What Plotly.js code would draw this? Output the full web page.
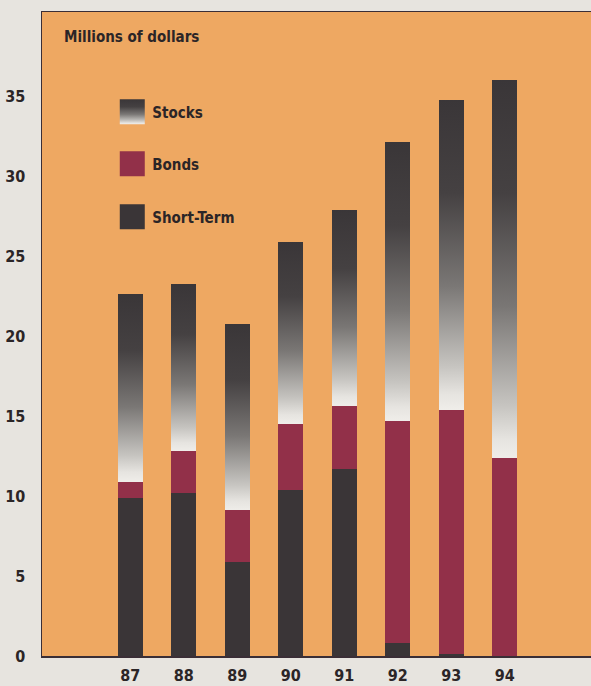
<!DOCTYPE html>
<html>
<head>
<meta charset="utf-8">
<script src="https://cdn.plot.ly/plotly-3.0.1.min.js"></script>
<style>
  html, body { margin: 0; padding: 0; background: #e7e4df; }
  #chart { width: 591px; height: 686px; }
</style>
</head>
<body>
<div id="chart"></div>
<script>
// Data (millions of dollars)
const years = ['87', '88', '89', '90', '91', '92', '93', '94'];
const shortTerm = [9.9, 10.2, 5.9, 10.4, 11.7, 0.8, 0.15, 0];
const bonds = [1.0, 2.6, 3.2, 4.1, 3.9, 13.9, 15.25, 12.35];
const stocks = [11.7, 10.45, 11.65, 11.4, 12.3, 17.4, 19.35, 23.65];
const yTicks = [0, 5, 10, 15, 20, 25, 30, 35];
const seriesNames = ['Short-Term', 'Bonds', 'Stocks'];

const FONT = '"Liberation Sans Narrow", "DejaVu Sans Condensed", "Arial Narrow", sans-serif';
const INK = '#2b2527';
const SHORT_COL = '#3a3537';
const BOND_COL = '#923049';

const traces = [
  { type: 'bar', x: years, y: shortTerm, name: seriesNames[0], legend: 'legend3',
    marker: { color: SHORT_COL, line: { width: 0 } }, width: 0.47 },
  { type: 'bar', x: years, y: bonds, name: seriesNames[1], legend: 'legend2',
    marker: { color: BOND_COL, line: { width: 0 } }, width: 0.47 },
  { type: 'bar', x: years, y: stocks, name: seriesNames[2], legend: 'legend',
    marker: { color: '#6a6666', line: { width: 0 } }, width: 0.47 }
];

const legendFont = { family: FONT, size: 15, weight: 700, color: INK };
function legendAt(y) {
  return { x: 0.128, y: y, xanchor: 'left', yanchor: 'middle', bgcolor: 'rgba(0,0,0,0)',
    borderwidth: 0, font: legendFont };
}

const layout = {
  width: 591, height: 686,
  margin: { l: 42, r: 0, t: 12, b: 30 },
  paper_bgcolor: '#e7e4df',
  plot_bgcolor: '#eea862',
  barmode: 'stack',
  showlegend: true,
  legend: legendAt((656 - 112) / 644),
  legend2: legendAt((656 - 164) / 644),
  legend3: legendAt((656 - 217) / 644),
  xaxis: {
    type: 'category', range: [-1.65, 8.61],
    showline: true, linecolor: '#3a2e36', linewidth: 1.5, mirror: true,
    showgrid: false, zeroline: false, ticks: '', ticklabelstandoff: 4,
    tickfont: { family: FONT, size: 16, weight: 700, color: INK }
  },
  yaxis: {
    range: [0, 40.25], tickvals: yTicks, ticktext: yTicks.map(String),
    showline: true, linecolor: '#3a2e36', linewidth: 1.5,
    showgrid: false, zeroline: false, ticks: '', ticklabelstandoff: 12,
    tickfont: { family: FONT, size: 16, weight: 700, color: INK }
  },
  annotations: [{
    text: 'Millions of dollars', xref: 'paper', yref: 'paper',
    x: 0.036, y: (656 - 37) / 644, xanchor: 'left', yanchor: 'middle', showarrow: false,
    font: { family: FONT, size: 15, weight: 700, color: INK }
  }]
};

Plotly.newPlot('chart', traces, layout, { staticPlot: true }).then(function (gd) {
  const svg = gd.querySelector('svg.main-svg');
  const NS = 'http://www.w3.org/2000/svg';
  let defs = svg.querySelector('defs');
  if (!defs) { defs = document.createElementNS(NS, 'defs'); svg.insertBefore(defs, svg.firstChild); }
  const grad = document.createElementNS(NS, 'linearGradient');
  grad.setAttribute('id', 'stockGrad');
  grad.setAttribute('x1', '0'); grad.setAttribute('y1', '0');
  grad.setAttribute('x2', '0'); grad.setAttribute('y2', '1');
  [['0', '#3a3638'], ['0.3', '#454142'], ['0.6', '#7a7775'], ['0.86', '#c6c4c0'], ['0.95', '#e6e4e0'], ['1', '#efede9']].forEach(function (s) {
    const st = document.createElementNS(NS, 'stop');
    st.setAttribute('offset', s[0]); st.setAttribute('stop-color', s[1]);
    grad.appendChild(st);
  });
  defs.appendChild(grad);

  // stocks trace bars get the vertical gradient
  const barTraces = gd.querySelectorAll('.barlayer .trace');
  if (barTraces[2]) {
    barTraces[2].querySelectorAll('path').forEach(function (p) { p.style.fill = 'url(#stockGrad)'; });
  }
  // enlarge legend swatches
  ['legend', 'legend2', 'legend3'].forEach(function (id) {
    const g = gd.querySelector('g.' + id);
    if (!g) return;
    g.querySelectorAll('.legendpoints path').forEach(function (p) {
      p.setAttribute('d', 'M12.5,12.5H-12.5V-12.5H12.5Z');
      if (id === 'legend') p.style.fill = 'url(#stockGrad)';
    });
  });
});
</script>
</body>
</html>
